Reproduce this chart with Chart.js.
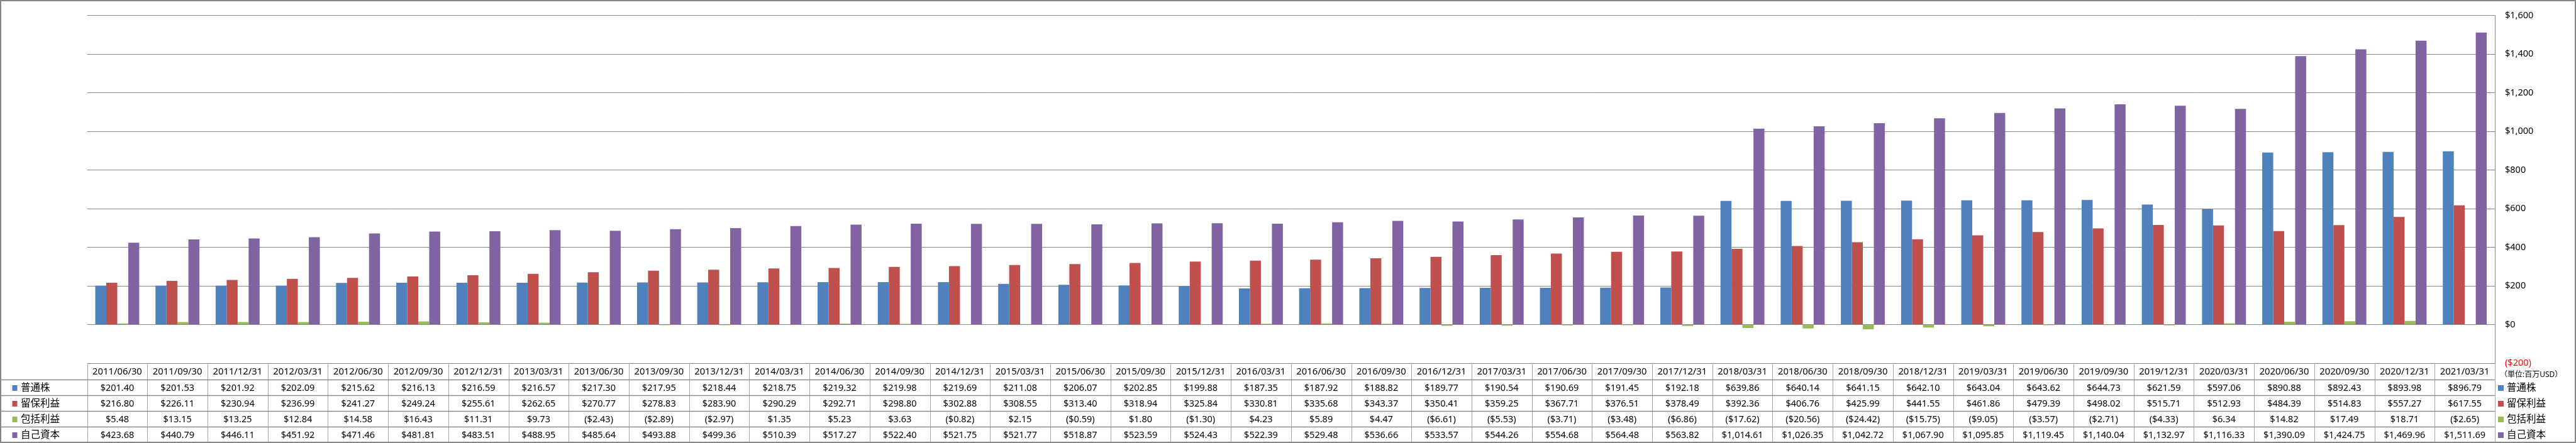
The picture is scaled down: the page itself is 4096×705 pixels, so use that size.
<!DOCTYPE html>
<html>
<head>
<meta charset="utf-8">
<script src="https://cdn.jsdelivr.net/npm/chart.js@4"></script>
<style>
  html, body { margin: 0; padding: 0; background: #fff; }
  canvas { display: block; }
</style>
</head>
<body>
<canvas id="equityChart" width="4096" height="705"></canvas>
<script>
// quarter end dates
const DATES = [
  '2011/06/30', '2011/09/30', '2011/12/31', '2012/03/31', '2012/06/30', '2012/09/30', '2012/12/31', '2013/03/31',
  '2013/06/30', '2013/09/30', '2013/12/31', '2014/03/31', '2014/06/30', '2014/09/30', '2014/12/31', '2015/03/31',
  '2015/06/30', '2015/09/30', '2015/12/31', '2016/03/31', '2016/06/30', '2016/09/30', '2016/12/31', '2017/03/31',
  '2017/06/30', '2017/09/30', '2017/12/31', '2018/03/31', '2018/06/30', '2018/09/30', '2018/12/31', '2019/03/31',
  '2019/06/30', '2019/09/30', '2019/12/31', '2020/03/31', '2020/06/30', '2020/09/30', '2020/12/31', '2021/03/31'
];

const COMMON_STOCK = [
  201.40, 201.53, 201.92, 202.09, 215.62, 216.13, 216.59, 216.57, 217.30, 217.95,
  218.44, 218.75, 219.32, 219.98, 219.69, 211.08, 206.07, 202.85, 199.88, 187.35,
  187.92, 188.82, 189.77, 190.54, 190.69, 191.45, 192.18, 639.86, 640.14, 641.15,
  642.10, 643.04, 643.62, 644.73, 621.59, 597.06, 890.88, 892.43, 893.98, 896.79
];
const RETAINED_EARNINGS = [
  216.80, 226.11, 230.94, 236.99, 241.27, 249.24, 255.61, 262.65, 270.77, 278.83,
  283.90, 290.29, 292.71, 298.80, 302.88, 308.55, 313.40, 318.94, 325.84, 330.81,
  335.68, 343.37, 350.41, 359.25, 367.71, 376.51, 378.49, 392.36, 406.76, 425.99,
  441.55, 461.86, 479.39, 498.02, 515.71, 512.93, 484.39, 514.83, 557.27, 617.55
];
const COMPREHENSIVE_INCOME = [
  5.48, 13.15, 13.25, 12.84, 14.58, 16.43, 11.31, 9.73, -2.43, -2.89,
  -2.97, 1.35, 5.23, 3.63, -0.82, 2.15, -0.59, 1.80, -1.30, 4.23,
  5.89, 4.47, -6.61, -5.53, -3.71, -3.48, -6.86, -17.62, -20.56, -24.42,
  -15.75, -9.05, -3.57, -2.71, -4.33, 6.34, 14.82, 17.49, 18.71, -2.65
];
const EQUITY = [
  423.68, 440.79, 446.11, 451.92, 471.46, 481.81, 483.51, 488.95, 485.64, 493.88,
  499.36, 510.39, 517.27, 522.40, 521.75, 521.77, 518.87, 523.59, 524.43, 522.39,
  529.48, 536.66, 533.57, 544.26, 554.68, 564.48, 563.82, 1014.61, 1026.35, 1042.72,
  1067.90, 1095.85, 1119.45, 1140.04, 1132.97, 1116.33, 1390.09, 1424.75, 1469.96, 1511.69
];

const SERIES_NAMES = ['普通株', '留保利益', '包括利益', '自己資本'];
const SERIES_VALUES = [COMMON_STOCK, RETAINED_EARNINGS, COMPREHENSIVE_INCOME, EQUITY];
const UNIT_LABEL = '（単位:百万USD）';
const Y_MIN = -200;
const Y_MAX = 1600;
const Y_STEP = 200;

/*---- drawing -----------------------*/
const COLORS = ['#4F81BD', '#C0504D', '#9BBB59', '#8064A2'];
const FONT_FAMILY = '"Noto Sans", "Noto Sans CJK JP", sans-serif';
const GRID_COLOR = '#868686';

let money = (value, digits) => {
  let s = '$' + Math.abs(value).toLocaleString('en-US', {
    minimumFractionDigits: digits,
    maximumFractionDigits: digits
  });
  return value < 0 ? '(' + s + ')' : s;
}

// data table under the plot + legend on the right
let tablePlugin = {
  id: 'dataTable',
  afterDraw: (chart) => {
    let ctx = chart.ctx;
    let area = chart.chartArea;
    let xScale = chart.scales.x;
    let W = chart.width;
    let H = chart.height;
    let colW = area.width / DATES.length;
    let dateRowH = 26;
    let rowH = (H - 1 - area.bottom - dateRowH) / 4;
    let rowTop = (r) => area.bottom + dateRowH + rowH * r;

    ctx.save();

    // vertical cell lines
    ctx.strokeStyle = '#a6a6a6';
    ctx.lineWidth = 1;
    ctx.beginPath();
    for (let i = 0; i <= DATES.length; i ++) {
      let x = Math.round(area.left + colW * i) + 0.5;
      ctx.moveTo(x, area.bottom);
      ctx.lineTo(x, H);
    }
    ctx.stroke();

    // horizontal row lines
    ctx.strokeStyle = '#8c8c8c';
    ctx.lineWidth = 1.3;
    ctx.beginPath();
    for (let r = 0; r < 4; r ++) {
      let y = Math.round(rowTop(r)) + 0.5;
      ctx.moveTo(0, y);
      ctx.lineTo(area.right, y);
    }
    ctx.stroke();

    ctx.fillStyle = '#000';
    ctx.textAlign = 'center';
    ctx.textBaseline = 'middle';

    // dates
    ctx.font = '14.8px ' + FONT_FAMILY;
    for (let i = 0; i < DATES.length; i ++) {
      ctx.fillText(DATES[i], xScale.getPixelForValue(i), area.bottom + dateRowH / 2 + 1);
    }

    // values
    ctx.font = '14.5px ' + FONT_FAMILY;
    for (let r = 0; r < SERIES_VALUES.length; r ++) {
      let yc = rowTop(r) + rowH / 2 + 1;
      for (let i = 0; i < DATES.length; i ++) {
        ctx.fillText(money(SERIES_VALUES[r][i], 2), xScale.getPixelForValue(i), yc);
      }
    }

    // series names, left header and right legend
    ctx.textAlign = 'left';
    ctx.font = '15.5px ' + FONT_FAMILY;
    for (let r = 0; r < SERIES_NAMES.length; r ++) {
      let yc = rowTop(r) + rowH / 2 + 1;
      ctx.fillStyle = COLORS[r];
      ctx.fillRect(19.5, yc - 4.5, 8, 9);
      ctx.fillRect(area.right + 5, yc - 4.5, 9, 9);
      ctx.fillStyle = '#000';
      ctx.fillText(SERIES_NAMES[r], 33, yc);
      ctx.fillText(SERIES_NAMES[r], area.right + 19, yc);
    }

    ctx.font = '12px ' + FONT_FAMILY;
    ctx.fillText(UNIT_LABEL, area.right + 8, area.bottom + 19);

    // outer frame
    ctx.strokeStyle = GRID_COLOR;
    ctx.lineWidth = 2;
    ctx.strokeRect(1, 1, W - 2, H - 2);

    ctx.restore();
  }
}

let datasets = SERIES_NAMES.map((name, i) => {
  return {
    label: name,
    data: SERIES_VALUES[i],
    backgroundColor: COLORS[i],
    borderWidth: 0,
    categoryPercentage: 0.73,
    barPercentage: 1.0
  }
});

new Chart(document.getElementById('equityChart'), {
  type: 'bar',
  data: {
    labels: DATES,
    datasets: datasets
  },
  options: {
    responsive: false,
    animation: false,
    devicePixelRatio: 1,
    layout: {
      padding: {left: 138.6, top: 11, right: 0, bottom: 127}
    },
    plugins: {
      legend: {display: false},
      tooltip: {enabled: false}
    },
    scales: {
      x: {
        display: false,
        grid: {display: false},
        border: {display: false},
        ticks: {display: false}
      },
      y: {
        position: 'right',
        min: Y_MIN,
        max: Y_MAX,
        afterFit: (scale) => {
          scale.width = 129;
        },
        ticks: {
          stepSize: Y_STEP,
          padding: 16,
          font: {family: FONT_FAMILY, size: 14.5},
          color: (c) => c.tick.value < 0 ? '#ff0000' : '#000',
          callback: (v) => money(v, 0)
        },
        grid: {
          color: GRID_COLOR,
          lineWidth: 1,
          drawTicks: false
        },
        border: {
          display: true,
          color: GRID_COLOR,
          width: 1
        }
      }
    }
  },
  plugins: [tablePlugin]
});
</script>
</body>
</html>
